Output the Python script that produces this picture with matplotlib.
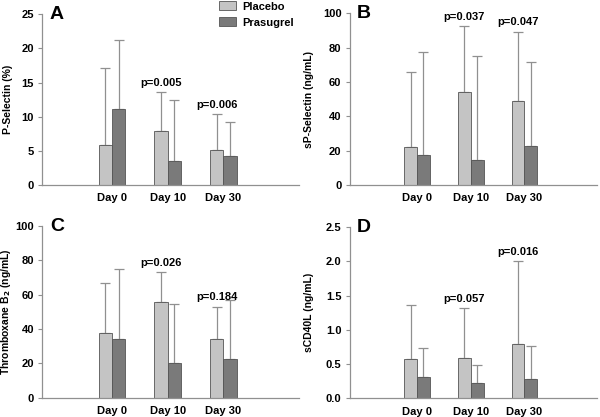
import numpy as np
import matplotlib.pyplot as plt
from matplotlib.patches import Patch

plt.rcParams['font.family'] = ['Liberation Sans', 'DejaVu Sans']

days = ['Day 0', 'Day 10', 'Day 30']

# panel A: P-Selectin (%)
a_placebo = [5.9, 7.9, 5.1]
a_placebo_top = [17.1, 13.6, 10.4]
a_prasugrel = [11.1, 3.5, 4.2]
a_prasugrel_top = [21.2, 12.4, 9.2]
a_p = ['', 'p=0.005', 'p=0.006']

# panel B: sP-Selectin (ng/mL)
b_placebo = [22.3, 54.4, 49.1]
b_placebo_top = [65.8, 92.6, 89.3]
b_prasugrel = [17.5, 14.4, 22.7]
b_prasugrel_top = [77.7, 75.1, 71.7]
b_p = ['', 'p=0.037', 'p=0.047']

# panel C: Thromboxane B2 (ng/mL)
c_placebo = [37.9, 55.6, 34.4]
c_placebo_top = [67.1, 73.0, 53.1]
c_prasugrel = [34.2, 20.2, 22.8]
c_prasugrel_top = [74.7, 54.5, 57.0]
c_p = ['', 'p=0.026', 'p=0.184']

# panel D: sCD40L (ng/mL)
d_placebo = [0.58, 0.59, 0.80]
d_placebo_top = [1.37, 1.32, 2.01]
d_prasugrel = [0.31, 0.22, 0.28]
d_prasugrel_top = [0.73, 0.48, 0.76]
d_p = ['', 'p=0.057', 'p=0.016']

light = '#c4c4c4'
dark = '#7a7a7a'
edge = '#555555'
line = '#909090'

fig = plt.figure(figsize=(6, 4.17), dpi=100)


def panel(rect, letter, ylabel, label_x, ymax, step, pl, pl_top, pr, pr_top, pvals, fmt):
    ax = fig.add_axes(rect)
    x = np.arange(len(days))
    w = 0.24
    pl = np.array(pl)
    pr = np.array(pr)
    ax.bar(x - w / 2, pl, w, color=light, edgecolor=edge, linewidth=0.6, zorder=2)
    ax.bar(x + w / 2, pr, w, color=dark, edgecolor=edge, linewidth=0.6, zorder=2)
    ax.errorbar(x - w / 2, pl, yerr=[np.zeros(3), np.array(pl_top) - pl], fmt='none',
                ecolor=line, elinewidth=0.9, capsize=3.3, capthick=0.9, zorder=1)
    ax.errorbar(x + w / 2, pr, yerr=[np.zeros(3), np.array(pr_top) - pr], fmt='none',
                ecolor=line, elinewidth=0.9, capsize=3.3, capthick=0.9, zorder=1)
    for i, t in enumerate(pvals):
        if t:
            ax.text(x[i] - w / 2, pl_top[i] + ymax * 0.025, t, ha='center', va='bottom',
                    fontsize=8, fontweight='bold')
    ax.set_xlim(-1.25, 3.35)
    ax.set_ylim(0, ymax)
    ticks = np.arange(0, ymax + step / 2, step)
    ax.set_yticks(ticks)
    ax.set_yticklabels([fmt.format(v) for v in ticks])
    ax.set_xticks(x)
    ax.set_xticklabels(days)
    ax.tick_params(axis='x', length=0, pad=6, labelsize=8)
    ax.tick_params(axis='y', length=3, direction='out', color=line, labelsize=8, pad=3)
    for lab in ax.get_xticklabels() + ax.get_yticklabels():
        lab.set_fontweight('bold')
    for s in ['top', 'right']:
        ax.spines[s].set_visible(False)
    for s in ['left', 'bottom']:
        ax.spines[s].set_color(line)
        ax.spines[s].set_linewidth(0.9)
    ax.set_ylabel(ylabel, fontsize=7.5, fontweight='bold')
    ax.yaxis.set_label_coords(label_x, 0.5)
    ax.text(0.03, 1.0, letter, transform=ax.transAxes, fontsize=14, fontweight='bold',
            ha='left', va='center')
    return ax


axA = panel([0.0705, 0.556, 0.427, 0.41], 'A', 'P-Selectin (%)', -0.115, 25, 5,
            a_placebo, a_placebo_top, a_prasugrel, a_prasugrel_top, a_p, '{:.0f}')
axB = panel([0.583, 0.556, 0.412, 0.412], 'B', 'sP-Selectin (ng/mL)', -0.145, 100, 20,
            b_placebo, b_placebo_top, b_prasugrel, b_prasugrel_top, b_p, '{:.0f}')
axC = panel([0.0705, 0.046, 0.427, 0.412], 'C', 'Thromboxane B$_\\mathbf{2}$ (ng/mL)', -0.115, 100, 20,
            c_placebo, c_placebo_top, c_prasugrel, c_prasugrel_top, c_p, '{:.0f}')
axD = panel([0.583, 0.045, 0.412, 0.41], 'D', 'sCD40L (ng/mL)', -0.145, 2.5, 0.5,
            d_placebo, d_placebo_top, d_prasugrel, d_prasugrel_top, d_p, '{:.1f}')

handles = [Patch(facecolor=light, edgecolor=edge, linewidth=0.6, label='Placebo'),
           Patch(facecolor=dark, edgecolor=edge, linewidth=0.6, label='Prasugrel')]
fig.legend(handles=handles, loc='upper left', bbox_to_anchor=(0.358, 1.008), frameon=False,
           prop={'size': 8, 'weight': 'bold'}, handlelength=1.5, handleheight=0.9,
           handletextpad=0.6, labelspacing=0.5, borderaxespad=0)

fig.savefig('out.png', dpi=100)
